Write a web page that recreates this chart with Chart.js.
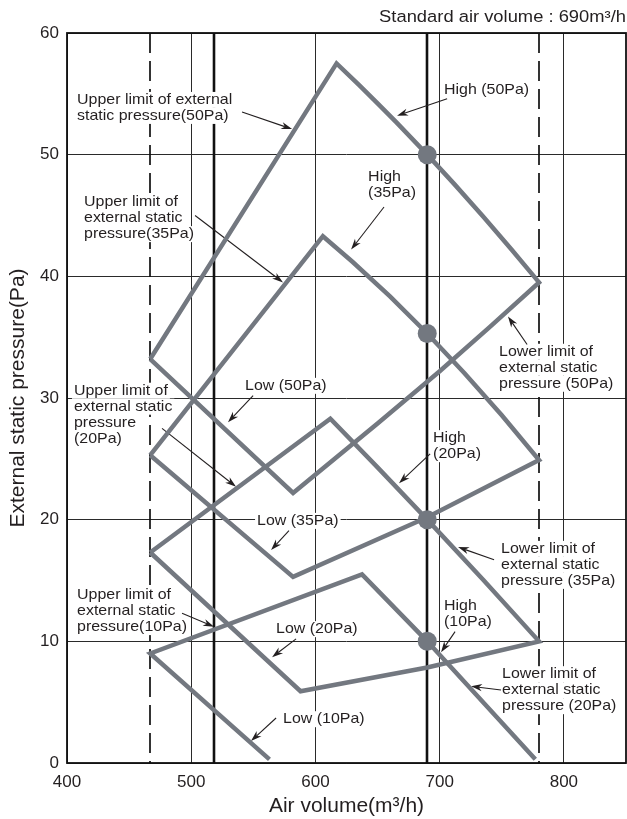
<!DOCTYPE html>
<html>
<head>
<meta charset="utf-8">
<script src="https://cdn.jsdelivr.net/npm/chart.js@4.4.1/dist/chart.umd.min.js"></script>
<style>
  html, body { margin: 0; padding: 0; background: #fff; }
  #wrap { width: 627px; height: 819px; }
</style>
</head>
<body>
<div id="wrap"><canvas id="fanChart" width="627" height="819"></canvas></div>
<script>
// Fan operating ranges, one closed outline per ESP setting (air volume m3/h, pressure Pa)
const pa50Air = [467, 617, 635, 650, 665, 690, 712, 735, 758, 780, 740, 700, 650, 582, 467];
const pa50Pressure = [33.2, 57.5, 55.74, 54.22, 52.67, 50, 47.56, 44.92, 42.19, 39.5, 35.8, 32.2, 27.9, 22.2, 33.2];

const pa35Air = [467, 606, 630, 660, 690, 720, 750, 780, 690, 582, 467];
const pa35Pressure = [25.3, 43.3, 41.18, 38.35, 35.3, 32.04, 28.58, 24.9, 20.2, 15.3, 25.3];

const pa20Air = [467, 612, 650, 690, 735, 780, 690, 588, 467];
const pa20Pressure = [17.3, 28.3, 24.3, 20, 15.06, 10, 7.85, 5.9, 17.3];

// 10Pa range is open at the bottom
const pa10Air = [563, 467, 637.5, 690, 777];
const pa10Pressure = [0.3, 9, 15.5, 10, 0.3];

// rated points at the standard air volume
const stdAir = 690;
const stdPressure = [50, 35.3, 20, 10];

// vertical guides
const limitAir = [467, 780];
const markAir = [518, 690];

const airTicks = [400, 500, 600, 700, 800];
const pressureTicks = [0, 10, 20, 30, 40, 50, 60];

// callouts: text, first line anchor, arrow start and tip (data units)
const notes = [
  { text: ['Upper limit of external', 'static pressure(50Pa)'], at: [408.1, 54.5], from: [540.9, 53.5], to: [581.2, 52.1] },
  { text: ['High (50Pa)'], at: [703.5, 55.3], from: [706, 54.6], to: [665.7, 53.2] },
  { text: ['High', '(35Pa)'], at: [642.4, 48.2], from: [655.2, 45.7], to: [628.7, 42.2] },
  { text: ['Upper limit of', 'external static', 'pressure(35Pa)'], at: [413.7, 46.1], from: [503.1, 45.0], to: [573.9, 39.5] },
  { text: ['Lower limit of', 'external static', 'pressure (50Pa)'], at: [747.8, 33.8], from: [770.4, 34.4], to: [755, 36.7] },
  { text: ['Upper limit of', 'external static', 'pressure', '(20Pa)'], at: [405.6, 30.6], from: [476.5, 27.5], to: [536.1, 22.7] },
  { text: ['Low (50Pa)'], at: [543.3, 31.0], from: [549.8, 30.2], to: [529.6, 28.0] },
  { text: ['High', '(20Pa)'], at: [694.7, 26.7], from: [692.3, 25.4], to: [667.3, 23.0] },
  { text: ['Low (35Pa)'], at: [553, 19.9], from: [578.7, 19.1], to: [564.3, 17.5] },
  { text: ['Lower limit of', 'external static', 'pressure (35Pa)'], at: [749.4, 17.6], from: [743.8, 16.7], to: [714.8, 17.75] },
  { text: ['Upper limit of', 'external static', 'pressure(10Pa)'], at: [408.1, 13.8], from: [492.6, 12.3], to: [518.4, 11.2] },
  { text: ['High', '(10Pa)'], at: [703.5, 12.9], from: [712.4, 10.8], to: [701.1, 9.1] },
  { text: ['Low (20Pa)'], at: [568.3, 11.0], from: [584.4, 10.2], to: [565.1, 8.7] },
  { text: ['Lower limit of', 'external static', 'pressure (20Pa)'], at: [750.2, 7.3], from: [749.4, 6.0], to: [725.3, 6.3] },
  { text: ['Low (10Pa)'], at: [573.9, 3.6], from: [568.3, 3.7], to: [548.1, 1.8] }
];

const LINE_GREY = '#737880';
const INK = '#231f20';
const FONT = "'Liberation Sans', Arial, Helvetica, sans-serif";
const STRETCH = 1.1;

function toPoints(xs, ys) {
  return xs.map((v, i) => ({ x: v, y: ys[i] }));
}

function rangeDataset(xs, ys) {
  return {
    data: toPoints(xs, ys),
    showLine: true,
    borderColor: LINE_GREY,
    borderWidth: 4.5,
    borderJoinStyle: 'miter',
    borderCapStyle: 'butt',
    pointRadius: 0,
    fill: false
  };
}

function drawText(ctx, str, px, py) {
  ctx.save();
  ctx.translate(px, py);
  ctx.scale(STRETCH, 1);
  ctx.fillText(str, 0, 0);
  ctx.restore();
}

function drawArrow(ctx, x1, y1, x2, y2) {
  const ang = Math.atan2(y2 - y1, x2 - x1);
  const c = Math.cos(ang), s = Math.sin(ang);
  const head = 11, half = 3.6;
  ctx.beginPath();
  ctx.moveTo(x1, y1);
  ctx.lineTo(x2 - c * head * 0.7, y2 - s * head * 0.7);
  ctx.stroke();
  ctx.beginPath();
  ctx.moveTo(x2, y2);
  ctx.lineTo(x2 - c * head + s * half, y2 - s * head - c * half);
  ctx.lineTo(x2 - c * head * 0.7, y2 - s * head * 0.7);
  ctx.lineTo(x2 - c * head - s * half, y2 - s * head + c * half);
  ctx.closePath();
  ctx.fill();
}

const notesPlugin = {
  id: 'notes',
  beforeDatasetsDraw(chart) {
    const { ctx, chartArea: a, scales: { x, y } } = chart;
    ctx.save();
    ctx.strokeStyle = '#111';

    // dashed limits
    ctx.lineWidth = 1.7;
    ctx.setLineDash([20, 8]);
    limitAir.forEach(v => {
      const px = Math.round(x.getPixelForValue(v));
      ctx.beginPath();
      ctx.moveTo(px, a.top);
      ctx.lineTo(px, a.bottom);
      ctx.stroke();
    });
    ctx.setLineDash([]);

    // solid heavy markers
    ctx.lineWidth = 2.6;
    markAir.forEach(v => {
      const px = Math.round(x.getPixelForValue(v));
      ctx.beginPath();
      ctx.moveTo(px, a.top);
      ctx.lineTo(px, a.bottom);
      ctx.stroke();
    });

    // frame
    ctx.lineWidth = 1.8;
    ctx.strokeRect(a.left, a.top, a.right - a.left, a.bottom - a.top);

    // callout text on white, then arrows
    ctx.font = '14.5px ' + FONT;
    ctx.textBaseline = 'middle';
    ctx.textAlign = 'left';
    notes.forEach(n => {
      const px = x.getPixelForValue(n.at[0]);
      const py = y.getPixelForValue(n.at[1]);
      n.text.forEach((line, i) => {
        const w = ctx.measureText(line).width * STRETCH;
        ctx.fillStyle = '#fff';
        ctx.fillRect(px - 2, py + i * 16 - 8, w + 4, 16);
      });
      ctx.fillStyle = INK;
      n.text.forEach((line, i) => drawText(ctx, line, px, py + i * 16));
    });
    ctx.strokeStyle = INK;
    ctx.fillStyle = INK;
    ctx.lineWidth = 1.1;
    notes.forEach(n => {
      drawArrow(ctx,
        x.getPixelForValue(n.from[0]), y.getPixelForValue(n.from[1]),
        x.getPixelForValue(n.to[0]), y.getPixelForValue(n.to[1]));
    });

    ctx.restore();
  },
  afterDraw(chart) {
    const { ctx, chartArea: a } = chart;
    ctx.save();
    ctx.font = '16.7px ' + FONT;
    ctx.fillStyle = INK;
    ctx.textBaseline = 'middle';
    const label = 'Standard air volume : ' + stdAir + 'm³/h';
    const w = ctx.measureText(label).width * STRETCH;
    drawText(ctx, label, a.right - w, 17);
    ctx.restore();
  }
};

const ctx = document.getElementById('fanChart').getContext('2d');
const fanChart = new Chart(ctx, {
  type: 'scatter',
  data: {
    datasets: [
      {
        data: stdPressure.map(v => ({ x: stdAir, y: v })),
        pointRadius: 9.5,
        pointBackgroundColor: LINE_GREY,
        pointBorderWidth: 0,
        showLine: false
      },
      rangeDataset(pa50Air, pa50Pressure),
      rangeDataset(pa35Air, pa35Pressure),
      rangeDataset(pa20Air, pa20Pressure),
      rangeDataset(pa10Air, pa10Pressure)
    ]
  },
  options: {
    responsive: false,
    animation: false,
    layout: { autoPadding: false, padding: { top: 33, right: 1, left: 0, bottom: 0 } },
    plugins: {
      legend: { display: false },
      tooltip: { enabled: false }
    },
    scales: {
      x: {
        type: 'linear',
        min: 400,
        max: 850,
        afterBuildTicks: scale => { scale.ticks = airTicks.map(v => ({ value: v })); },
        afterFit: scale => {
          scale.height = 56;
          scale.paddingLeft = 0;
          scale.paddingRight = 0;
        },
        ticks: { color: INK, font: { family: FONT, size: 17 }, padding: 9 },
        grid: { color: '#2a2a2a', lineWidth: 1, drawTicks: false },
        border: { display: false },
        title: {
          display: true,
          text: 'Air volume(m³/h)',
          color: INK,
          font: { family: FONT, size: 21 },
          padding: { top: 0, bottom: 0 }
        }
      },
      y: {
        min: 0,
        max: 60,
        afterBuildTicks: scale => { scale.ticks = pressureTicks.map(v => ({ value: v })); },
        afterFit: scale => { scale.width = 67; },
        ticks: { color: INK, font: { family: FONT, size: 17 }, padding: 8 },
        grid: { color: '#2a2a2a', lineWidth: 1, drawTicks: false },
        border: { display: false },
        title: {
          display: true,
          text: 'External static pressure(Pa)',
          color: INK,
          font: { family: FONT, size: 21 },
          padding: { top: 6, bottom: 0 }
        }
      }
    }
  },
  plugins: [notesPlugin]
});
</script>
</body>
</html>
